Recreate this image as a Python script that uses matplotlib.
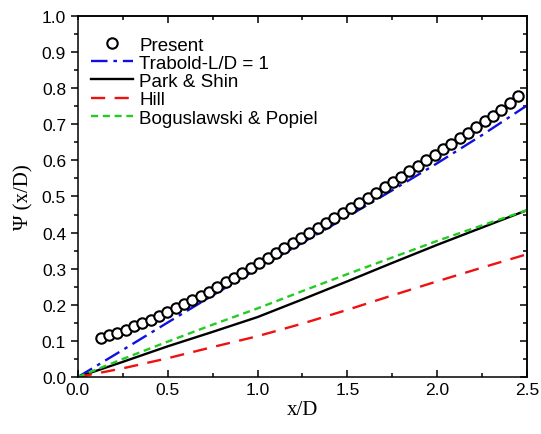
import matplotlib
matplotlib.use("Agg")
import matplotlib.pyplot as plt
from matplotlib.ticker import MultipleLocator

# Present (CFD) data points
present_x = [0.126, 0.172, 0.219, 0.265, 0.312, 0.358, 0.405, 0.451, 0.498, 0.544,
             0.591, 0.637, 0.684, 0.730, 0.777, 0.823, 0.870, 0.916, 0.963, 1.009,
             1.056, 1.102, 1.149, 1.195, 1.242, 1.288, 1.335, 1.381, 1.428, 1.474,
             1.521, 1.567, 1.614, 1.660, 1.707, 1.753, 1.800, 1.846, 1.893, 1.939,
             1.986, 2.032, 2.079, 2.125, 2.172, 2.218, 2.265, 2.311, 2.358, 2.404,
             2.451]
present_y = [0.108, 0.115, 0.123, 0.131, 0.140, 0.149, 0.159, 0.169, 0.180, 0.190,
             0.201, 0.212, 0.224, 0.236, 0.249, 0.262, 0.274, 0.288, 0.302, 0.317,
             0.331, 0.344, 0.358, 0.372, 0.385, 0.399, 0.413, 0.426, 0.440, 0.454,
             0.467, 0.481, 0.496, 0.510, 0.525, 0.540, 0.555, 0.570, 0.585, 0.600,
             0.616, 0.631, 0.646, 0.662, 0.677, 0.693, 0.708, 0.724, 0.740, 0.758,
             0.778]

# correlations
corr_x = [0.0, 0.25, 0.5, 0.75, 1.0, 1.25, 1.5, 1.75, 2.0, 2.25, 2.5]
trabold_y = [0.0, 0.075, 0.151, 0.226, 0.300, 0.372, 0.444, 0.517, 0.592, 0.670, 0.752]
park_y = [0.0, 0.042, 0.085, 0.125, 0.166, 0.215, 0.265, 0.316, 0.366, 0.414, 0.462]
hill_y = [0.0, 0.024, 0.052, 0.083, 0.113, 0.148, 0.186, 0.226, 0.265, 0.303, 0.340]
bogus_y = [0.0, 0.050, 0.098, 0.145, 0.190, 0.238, 0.285, 0.331, 0.377, 0.420, 0.462]

plt.rcParams['font.family'] = ['Liberation Sans', 'DejaVu Sans']

fig = plt.figure(figsize=(5.41, 4.35), dpi=100)
ax = fig.add_axes([0.144, 0.131, 0.830, 0.830])

ax.plot(present_x, present_y, 'o', mfc='white', mec='black', mew=1.5, ms=7.5,
        label='Present', zorder=5)
ax.plot(corr_x, trabold_y, color='#1010e0', lw=1.7, dashes=(7, 2.5, 1.5, 2.5),
        label='Trabold-L/D = 1')
ax.plot(corr_x, park_y, color='black', lw=1.7, label='Park & Shin')
ax.plot(corr_x, hill_y, color='#ee1111', lw=1.7, dashes=(6, 4), label='Hill')
ax.plot(corr_x, bogus_y, color='#22cc22', lw=1.7, dashes=(3, 2),
        label='Boguslawski & Popiel')

ax.set_xlim(0, 2.5)
ax.set_ylim(0, 1.0)
ax.xaxis.set_major_locator(MultipleLocator(0.5))
ax.xaxis.set_minor_locator(MultipleLocator(0.25))
ax.yaxis.set_major_locator(MultipleLocator(0.1))
ax.yaxis.set_minor_locator(MultipleLocator(0.05))
ax.xaxis.set_major_formatter(plt.FormatStrFormatter('%.1f'))
ax.yaxis.set_major_formatter(plt.FormatStrFormatter('%.1f'))

for s in ax.spines.values():
    s.set_linewidth(1.1)

ax.tick_params(axis='both', which='both', labelsize=12.5, width=1.1)
ax.tick_params(axis='both', which='major', length=5)
ax.tick_params(axis='both', which='minor', length=3)
ax.tick_params(axis='y', which='both', direction='out', left=True, right=False)
ax.tick_params(axis='x', which='both', direction='in', bottom=True, top=False)
# top and right ticks point inward
sec_x = ax.secondary_xaxis('top')
sec_x.set_xticks([0.5, 1.0, 1.5, 2.0], labels=[])
sec_x.xaxis.set_minor_locator(MultipleLocator(0.25))
sec_x.tick_params(which='both', direction='in', width=1.1)
sec_x.tick_params(which='major', length=5)
sec_x.tick_params(which='minor', length=3)
sec_x.spines['top'].set_linewidth(1.1)
sec_y = ax.secondary_yaxis('right')
sec_y.set_yticks([0.1 * i for i in range(11)], labels=[])
sec_y.yaxis.set_minor_locator(MultipleLocator(0.05))
sec_y.tick_params(which='both', direction='in', width=1.1)
sec_y.tick_params(which='major', length=5)
sec_y.tick_params(which='minor', length=3)
sec_y.spines['right'].set_linewidth(1.1)

ax.set_xlabel('x/D', fontfamily='Liberation Serif', fontsize=15, labelpad=2)
ax.set_ylabel('Ψ (x/D)', fontfamily='Liberation Serif', fontsize=15, labelpad=6)

ax.legend(loc='upper left', frameon=False, fontsize=13.5, handlelength=2.25,
          handletextpad=0.35, labelspacing=0.06, borderaxespad=0.4,
          bbox_to_anchor=(-0.005, 0.985))

fig.savefig('out.png', dpi=100)
